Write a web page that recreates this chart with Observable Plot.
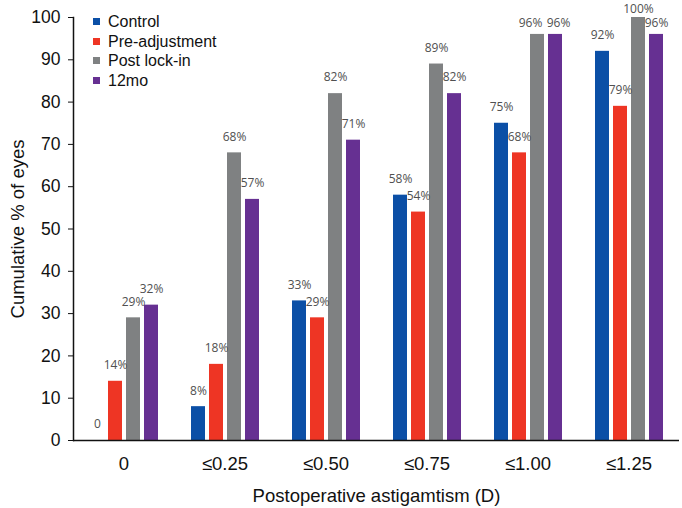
<!DOCTYPE html>
<html>
<head>
<meta charset="utf-8">
<script src="https://cdn.jsdelivr.net/npm/d3@7"></script>
<script src="https://cdn.jsdelivr.net/npm/@observablehq/plot@0.6"></script>
<style>
  body { margin: 0; background: #fff; }
  #wrap { position: relative; width: 682px; height: 508px; }
  #legend { position: absolute; left: 93px; top: 12px; font: 16px "Liberation Sans", Arial, sans-serif; color: #111; }
  #legend .row { height: 19.7px; line-height: 19.7px; white-space: nowrap; }
  #legend .sw { display: inline-block; width: 7px; height: 7px; margin-right: 8px; vertical-align: 2px; }
</style>
</head>
<body>
<div id="wrap"><div id="legend"></div></div>
<script>
const categories = ["0", "≤0.25", "≤0.50", "≤0.75", "≤1.00", "≤1.25"];
const seriesNames = ["Control", "Pre-adjustment", "Post lock-in", "12mo"];
const control = [0, 8, 33, 58, 75, 92];
const preAdjustment = [14, 18, 29, 54, 68, 79];
const postLockIn = [29, 68, 82, 89, 96, 100];
const twelveMonths = [32, 57, 71, 82, 96, 96];
const yTicks = [0, 10, 20, 30, 40, 50, 60, 70, 80, 90, 100];
const colors = ["#0b4fa6", "#ee3524", "#7f8182", "#663092"];

const seriesValues = [control, preAdjustment, postLockIn, twelveMonths];
const rows = [];
categories.forEach((c, i) => {
  seriesNames.forEach((s, j) => {
    rows.push({category: c, series: s, value: seriesValues[j][i]});
  });
});
const fmt = d => d.value === 0 ? "0" : d.value + "%";

const textOpts = {fx: "category", x: "series", y: "value", text: fmt,
  fill: "#505050", fontSize: 12, fontFamily: "Open Sans, sans-serif", lineAnchor: "middle"};

// labels in the ≤1.00 group sit side by side at 96%, nudged apart as in the source
const crowded = d => d.category === "≤1.00" && d.value >= 95;

const chart = Plot.plot({
  width: 682,
  height: 508,
  marginLeft: 71,
  marginRight: 2,
  marginTop: 17,
  marginBottom: 68,
  style: {fontFamily: "Liberation Sans, Arial, sans-serif", background: "white", color: "#111", overflow: "visible"},
  fx: {domain: categories, paddingInner: 0, paddingOuter: 0, label: null},
  x: {domain: seriesNames, paddingInner: 0.24, paddingOuter: 0.86, axis: null},
  y: {domain: [0, 100]},
  color: {domain: seriesNames, range: colors},
  marks: [
    Plot.barY(rows, {fx: "category", x: "series", y: "value", fill: "series"}),
    Plot.text(rows.filter(d => d.value < 95), {...textOpts, dy: -16}),
    Plot.text(rows.filter(d => d.value >= 95 && d.value < 100 && !crowded(d)), {...textOpts, dy: -11}),
    Plot.text(rows.filter(d => crowded(d) && d.series === "Post lock-in"), {...textOpts, dy: -11, dx: -7}),
    Plot.text(rows.filter(d => crowded(d) && d.series === "12mo"), {...textOpts, dy: -11, dx: 3}),
    Plot.text(rows.filter(d => d.value >= 100), {...textOpts, dy: -8}),
    Plot.ruleY([0], {stroke: "#111", strokeWidth: 1.5}),
    Plot.frame({anchor: "left", facetAnchor: "left", stroke: "#111", strokeWidth: 1.5}),
    Plot.axisY({ticks: yTicks, tickSize: 5, tickPadding: 8, fontSize: 17.5,
      label: "Cumulative % of eyes", labelAnchor: "center", labelArrow: "none", labelOffset: 63, fontSize: 17.5}),
    Plot.axisFx({anchor: "bottom", tickSize: 0, tickPadding: 16, fontSize: 18.5,
      label: "Postoperative astigamtism (D)", labelAnchor: "center", labelArrow: "none", labelOffset: 61})
  ]
});
document.getElementById("wrap").prepend(chart);

// axis titles are a touch larger than the tick labels in the source
chart.querySelectorAll("[aria-label='y-axis label'] text, [aria-label='fx-axis label'] text").forEach(t => t.setAttribute("font-size", 18.5));

const legend = document.getElementById("legend");
seriesNames.forEach((s, i) => {
  const row = document.createElement("div");
  row.className = "row";
  const sw = document.createElement("span");
  sw.className = "sw";
  sw.style.background = colors[i];
  row.appendChild(sw);
  row.appendChild(document.createTextNode(s));
  legend.appendChild(row);
});
</script>
</body>
</html>
